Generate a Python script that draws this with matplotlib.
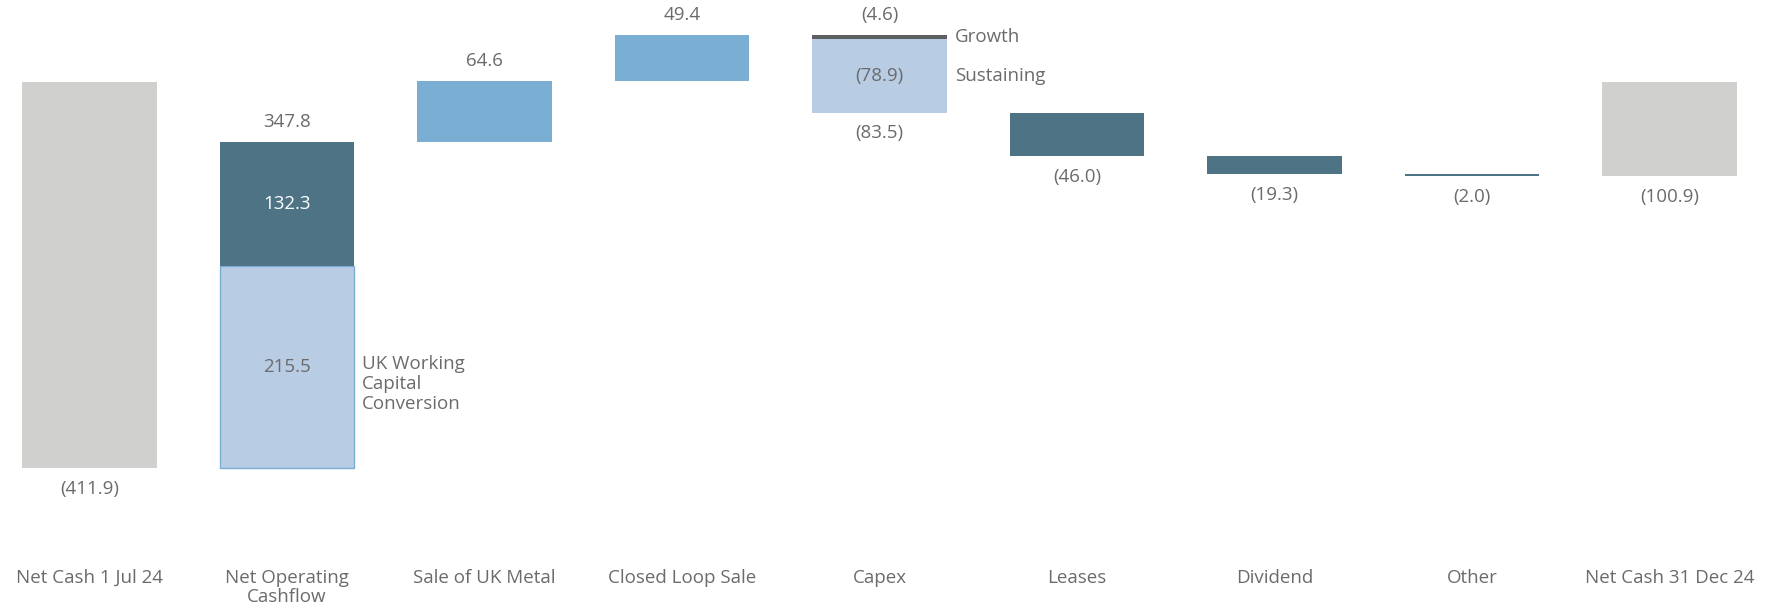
import matplotlib.pyplot as plt

# datos del waterfall (en millones)
categories = ["Net Cash 1 Jul 24", "Net Operating\nCashflow", "Sale of UK Metal", "Closed Loop Sale",
              "Capex", "Leases", "Dividend", "Other", "Net Cash 31 Dec 24"]
opening = -411.9
closing = -100.9
ucwc = 215.5          # UK working capital conversion
op_other = 132.3
sale_metal = 64.6
closed_loop = 49.4
capex_growth = -4.6
capex_sustaining = -78.9
leases = -46.0
dividend = -19.3
other = -2.0

GREY = "#D0D0CE"
TEAL = "#4E7385"
LIGHT = "#B8CCE4"
MID = "#7AAED3"
DARKG = "#5E5F63"
TXT = "#6B6B6B"

plt.rcParams["font.family"] = ["Open Sans", "DejaVu Sans"]

fig = plt.figure(figsize=(17.77, 6.12), dpi=100)
ax = fig.add_axes([0, 0, 1, 1])
w = 0.68
fs = 13.5

# 1. Net cash inicial
ax.bar(0, opening, width=w, color=GREY)
ax.text(0, opening - 12, "(411.9)", ha="center", va="top", fontsize=fs, color=TXT)

# 2. Net operating cashflow (dos tramos)
y = opening
ax.bar(1, ucwc, bottom=y, width=w, color=LIGHT, edgecolor=MID, linewidth=1)
ax.text(1, y + ucwc / 2, f"{ucwc:.1f}", ha="center", va="center", fontsize=fs, color=TXT)
ax.text(1 + w / 2 + 0.04, y + ucwc / 2 - 18, "UK Working\nCapital\nConversion",
        ha="left", va="center", fontsize=fs, color=TXT, linespacing=1.15)
y += ucwc
ax.bar(1, op_other, bottom=y, width=w, color=TEAL)
ax.text(1, y + op_other / 2, f"{op_other:.1f}", ha="center", va="center", fontsize=fs, color="white")
y += op_other
ax.text(1, y + 12, f"{ucwc + op_other:.1f}", ha="center", va="bottom", fontsize=fs, color=TXT)

# 3. y 4. entradas
for i, v in [(2, sale_metal), (3, closed_loop)]:
    ax.bar(i, v, bottom=y, width=w, color=MID)
    ax.text(i, y + v + 12, f"{v:.1f}", ha="center", va="bottom", fontsize=fs, color=TXT)
    y += v

# 5. Capex (growth + sustaining)
top = y
ax.bar(4, capex_growth, bottom=y, width=w, color=DARKG)
ax.text(4, top + 12, f"({-capex_growth:.1f})", ha="center", va="bottom", fontsize=fs, color=TXT)
ax.text(4 + w / 2 + 0.04, y + capex_growth / 2, "Growth", ha="left", va="center", fontsize=fs, color=TXT)
y += capex_growth
ax.bar(4, capex_sustaining, bottom=y, width=w, color=LIGHT)
ax.text(4, y + capex_sustaining / 2, f"({-capex_sustaining:.1f})", ha="center", va="center", fontsize=fs, color=TXT)
ax.text(4 + w / 2 + 0.04, y + capex_sustaining / 2, "Sustaining", ha="left", va="center", fontsize=fs, color=TXT)
y += capex_sustaining
ax.text(4, y - 12, f"({-(capex_growth + capex_sustaining):.1f})", ha="center", va="top", fontsize=fs, color=TXT)

# 6-8. salidas
for i, v in [(5, leases), (6, dividend), (7, other)]:
    ax.bar(i, v, bottom=y, width=w, color=TEAL)
    y += v
    ax.text(i, y - 12, f"({-v:.1f})", ha="center", va="top", fontsize=fs, color=TXT)

# 9. Net cash final
ax.bar(8, closing, width=w, color=GREY)
ax.text(8, closing - 12, "(100.9)", ha="center", va="top", fontsize=fs, color=TXT)

# etiquetas de categoria
for i, c in enumerate(categories):
    ax.text(i, -519, c, ha="center", va="top", fontsize=fs, color=TXT, linespacing=1.1)

ax.set_xlim(-0.453, 8.544)
ax.set_ylim(-565, 87)
ax.axis("off")

fig.savefig("out.png", dpi=100)
